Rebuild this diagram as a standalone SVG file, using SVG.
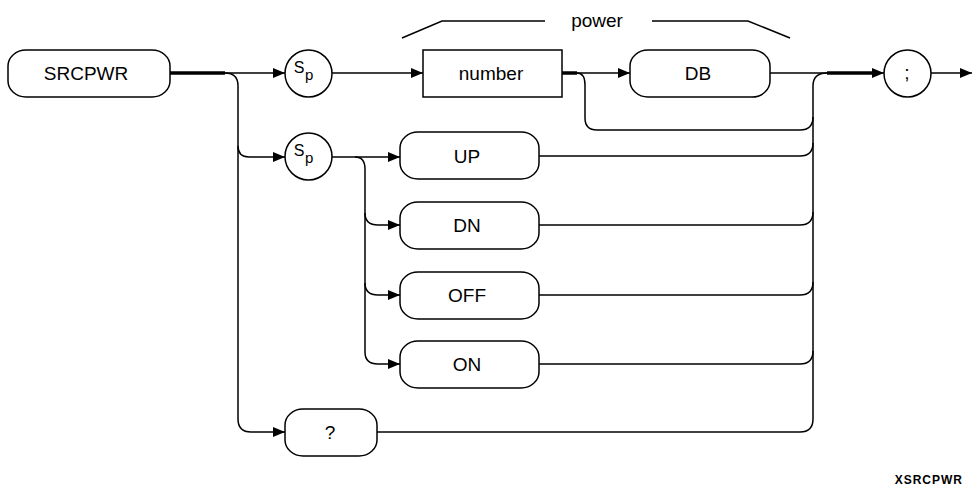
<svg xmlns="http://www.w3.org/2000/svg" width="972" height="488" viewBox="0 0 972 488">
<style>
  .shape { fill: #fff; stroke: #000; stroke-width: 1.5; }
  .line { fill: none; stroke: #000; stroke-width: 1.5; }
  .thick { fill: none; stroke: #000; stroke-width: 3.5; }
  .lbl { font-family: "Liberation Sans", Arial, sans-serif; font-size: 19px; fill: #000; text-anchor: middle; }
  .sp { font-family: "Liberation Sans", Arial, sans-serif; fill: #000; }
  .tag { font-family: "Liberation Sans", Arial, sans-serif; font-size: 12px; font-weight: bold; letter-spacing: 1px; fill: #000; text-anchor: end; }
</style>
<defs>
  <marker id="arr" viewBox="0 0 12 10" refX="12" refY="5" markerWidth="12" markerHeight="10" markerUnits="userSpaceOnUse" orient="auto">
    <path d="M0,0 L12,5 L0,10 Z" fill="#000"/>
  </marker>
</defs>
<rect width="972" height="488" fill="#fff"/>

<g id="connectors">
  <path class="thick" d="M170,73 L225,73"/>
  <path class="line" d="M225,73 L285,73" marker-end="url(#arr)"/>
  <path class="line" d="M225,73 Q238,73 238,86 L238,419 Q238,432 251,432 L285,432" marker-end="url(#arr)"/>
  <path class="line" d="M238,146 Q238,157 249,157 L285,157" marker-end="url(#arr)"/>
  <path class="line" d="M332,73 L423,73" marker-end="url(#arr)"/>
  <path class="thick" d="M562,73 L577,73"/>
  <path class="line" d="M577,73 L630,73" marker-end="url(#arr)"/>
  <path class="line" d="M577,73 Q585,73 585,85 L585,118 Q585,130 597,130 L800,130 Q813,130 813,117"/>
  <path class="line" d="M770,73 L827,73"/>
  <path class="thick" d="M827,73 L872,73"/>
  <path class="line" d="M870,73 L884,73" marker-end="url(#arr)"/>
  <path class="line" d="M800,432 Q813,432 813,419 L813,86 Q813,73 827,73"/>
  <path class="line" d="M332,157 L400,157" marker-end="url(#arr)"/>
  <path class="line" d="M355,157 Q365,157 365,169 L365,352 Q365,364 378,364 L400,364" marker-end="url(#arr)"/>
  <path class="line" d="M365,213 Q365,225 378,225 L400,225" marker-end="url(#arr)"/>
  <path class="line" d="M365,283 Q365,295 378,295 L400,295" marker-end="url(#arr)"/>
  <path class="line" d="M539,156 L800,156 Q813,156 813,143"/>
  <path class="line" d="M539,225 L800,225 Q813,225 813,212"/>
  <path class="line" d="M539,295 L800,295 Q813,295 813,282"/>
  <path class="line" d="M539,364 L800,364 Q813,364 813,351"/>
  <path class="line" d="M377,432 L800,432"/>
  <path class="line" d="M931,73 L972,73" marker-end="url(#arr)"/>
</g>

<g id="power-bracket">
  <path class="line" d="M402,38 L442,21 L545,21"/>
  <path class="line" d="M652,21 L748,21 L790,38"/>
  <text class="lbl" x="597" y="27">power</text>
</g>

<g id="node-srcpwr">
  <rect class="shape" x="8" y="50" width="162" height="47" rx="18" ry="16"/>
  <text class="lbl" x="86" y="80">SRCPWR</text>
</g>

<g id="node-sp1">
  <circle class="shape" cx="308.5" cy="73.5" r="23.5"/>
  <text class="sp" x="299" y="73" font-size="16" text-anchor="middle">S</text>
  <text class="sp" x="305" y="80" font-size="15">p</text>
</g>

<g id="node-number">
  <rect class="shape" x="423" y="50" width="139" height="47"/>
  <text class="lbl" x="491" y="80">number</text>
</g>

<g id="node-db">
  <rect class="shape" x="630" y="50" width="140" height="47" rx="18" ry="16"/>
  <text class="lbl" x="698" y="80">DB</text>
</g>

<g id="node-semicolon">
  <circle class="shape" cx="907.5" cy="73.5" r="23.5"/>
  <text class="lbl" x="907" y="79" font-size="30">;</text>
</g>

<g id="node-sp2">
  <circle class="shape" cx="308.5" cy="156.5" r="23.5"/>
  <text class="sp" x="299" y="156" font-size="16" text-anchor="middle">S</text>
  <text class="sp" x="305" y="163" font-size="15">p</text>
</g>

<g id="node-up">
  <rect class="shape" x="400" y="132" width="139" height="47" rx="18" ry="16"/>
  <text class="lbl" x="467" y="163">UP</text>
</g>

<g id="node-dn">
  <rect class="shape" x="400" y="202" width="139" height="47" rx="18" ry="16"/>
  <text class="lbl" x="467" y="232">DN</text>
</g>

<g id="node-off">
  <rect class="shape" x="400" y="272" width="139" height="47" rx="18" ry="16"/>
  <text class="lbl" x="467" y="302">OFF</text>
</g>

<g id="node-on">
  <rect class="shape" x="400" y="341" width="139" height="47" rx="18" ry="16"/>
  <text class="lbl" x="467" y="371">ON</text>
</g>

<g id="node-query">
  <rect class="shape" x="285" y="409" width="92" height="47" rx="18" ry="16"/>
  <text class="lbl" x="330" y="439">?</text>
</g>

<text class="tag" x="963" y="484">XSRCPWR</text>
</svg>
